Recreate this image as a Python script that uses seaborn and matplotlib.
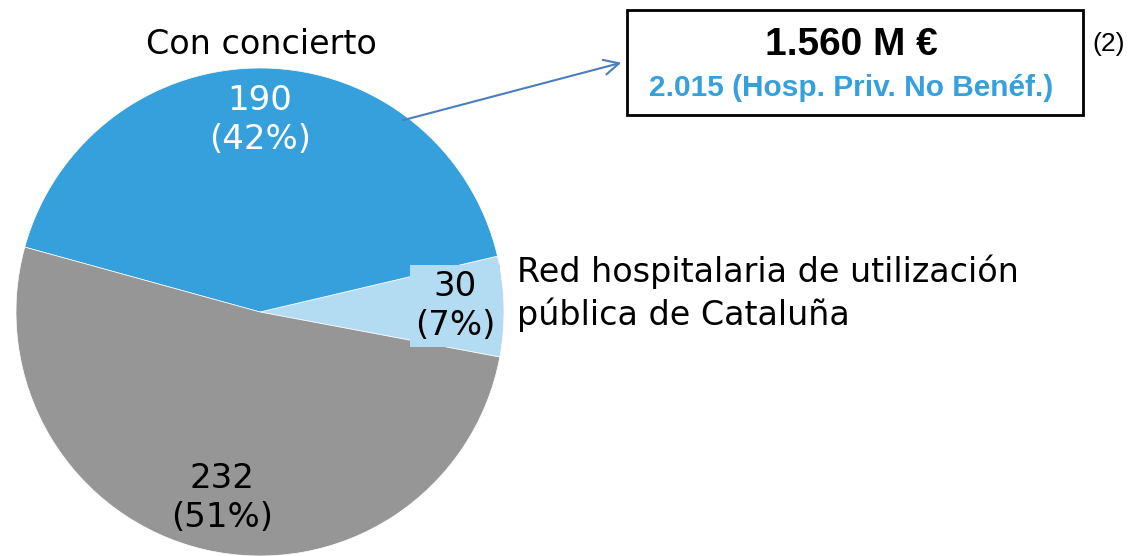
import matplotlib
matplotlib.use("Agg")
import matplotlib.pyplot as plt
import matplotlib.patches as mpatches
import seaborn as sns

# data
categories = ["Red hospitalaria de utilización\npública de Cataluña", "Con concierto", "Sin concierto"]
values = [30, 190, 232]
pcts = [7, 42, 51]
colors = ["#B3DCF2", "#36A0DD", "#969696"]
box_title = "1.560 M €"
box_sub = "2.015 (Hosp. Priv. No Benéf.)"
note = "(2)"

sns.set_theme(style="white")
plt.rcParams['font.family'] = ['DejaVu Sans']

W, H = 1135, 556
fig = plt.figure(figsize=(W / 100, H / 100), dpi=100)
ax = fig.add_axes([0, 0, 1, 1])

# pie (centre and radius in pixel-like units, y up)
cx, cy, r = 260, H - 312, 244
total = sum(values)
start = 1.3 - values[0] / total * 360 / 2
wedges, _ = ax.pie(values, colors=colors, startangle=start, counterclock=True,
                   center=(cx, cy), radius=r, frame=True,
                   wedgeprops=dict(edgecolor="white", linewidth=0.5))
ax.set_xlim(0, W)
ax.set_ylim(0, H)
ax.set_aspect("equal")
ax.axis("off")

fs = 24.5
ls = 1.25
lbl = lambda i: f"{values[i]}\n({pcts[i]}%)"
ax.text(260, H - 120, lbl(1), ha="center", va="center", fontsize=fs, color="white", linespacing=ls)
ax.text(455, H - 306, lbl(0), ha="center", va="center", fontsize=fs, color="black", linespacing=ls,
        bbox=dict(boxstyle="square,pad=0.15", fc=colors[0], ec="none"))
ax.text(222, H - 498, lbl(2), ha="center", va="center", fontsize=fs, color="black", linespacing=ls)

# category labels
ax.text(261, H - 45, categories[1], ha="center", va="center", fontsize=24, color="black")
ax.text(517, H - 293, categories[0], ha="left", va="center", fontsize=24, color="black", linespacing=1.3)

# annotation box
ax.add_patch(mpatches.Rectangle((627, H - 115), 456, 105, fill=False, ec="black", lw=2))
narrow = ['Liberation Sans Narrow', 'Liberation Sans', 'DejaVu Sans']
ax.text(851, H - 45, box_title, ha="center", va="center", fontsize=28, fontweight="bold",
        family=narrow, color="black")
ax.text(851, H - 88, box_sub, ha="center", va="center", fontsize=21.5, fontweight="bold",
        family=narrow, color="#36A0DD")
ax.text(1109, H - 44, note, ha="center", va="center", fontsize=19, family=narrow, color="black")

ax.annotate("", xy=(624, H - 62), xytext=(400, H - 121),
            arrowprops=dict(arrowstyle="->,head_length=0.9,head_width=0.45", color="#4A7EC0", lw=1.5))

fig.savefig("out.png", dpi=100)
